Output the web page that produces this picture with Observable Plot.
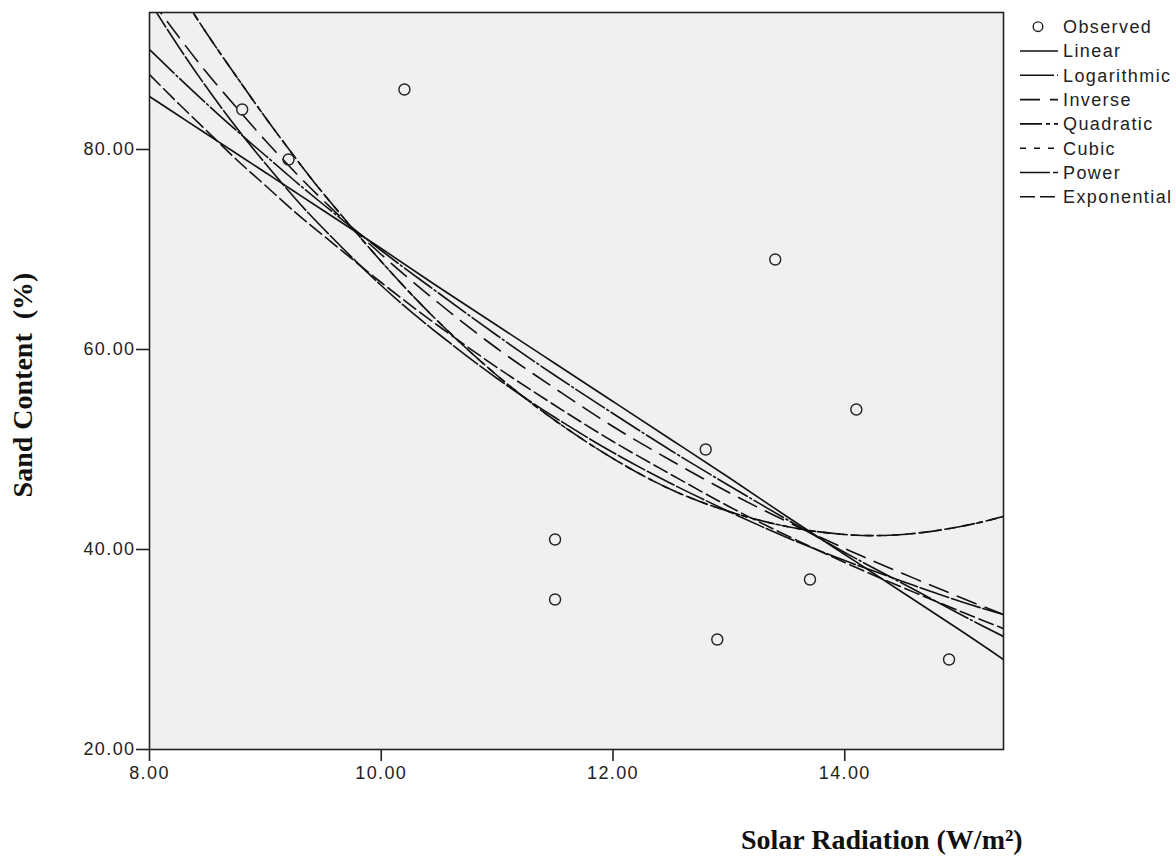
<!DOCTYPE html>
<html>
<head>
<meta charset="utf-8">
<script src="https://cdn.jsdelivr.net/npm/d3@7"></script>
<script src="https://cdn.jsdelivr.net/npm/@observablehq/plot@0.6"></script>
<style>
  body { margin: 0; background: #ffffff; }
  #chart { width: 1176px; height: 856px; }
</style>
</head>
<body>
<div id="chart"></div>
<script>
// Observed points
const obsX = [8.8, 9.2, 10.2, 11.5, 11.5, 12.8, 12.9, 13.4, 13.7, 14.1, 14.9];
const obsY = [84, 79, 86, 41, 35, 50, 31, 69, 37, 54, 29];

// Fitted curves, sampled at these x values
const fitX = [8, 8.25, 8.5, 8.75, 9, 9.25, 9.5, 10, 10.5, 11, 11.5, 12, 12.5, 13, 13.5, 14, 14.5, 15, 15.37];
const linearY      = [85.3, 83.4, 81.5, 79.6, 77.7, 75.8, 73.9, 70.1, 66.2, 62.4, 58.6, 54.8, 51.0, 47.2, 43.3, 39.5, 35.7, 31.9, 29.0];
const logarithmicY = [90.0, 87.2, 84.5, 81.9, 79.4, 76.9, 74.5, 69.9, 65.6, 61.4, 57.4, 53.6, 49.9, 46.4, 43.0, 39.7, 36.6, 33.5, 31.3];
const inverseY     = [95.2, 91.3, 87.6, 84.2, 80.9, 77.8, 74.9, 69.5, 64.6, 60.1, 56.1, 52.3, 48.9, 45.7, 42.8, 40.1, 37.6, 35.2, 33.5];
const quadraticY   = [100.6, 96.0, 91.5, 87.3, 83.2, 79.3, 75.6, 68.8, 62.7, 57.4, 52.9, 49.1, 46.0, 43.8, 42.3, 41.5, 41.5, 42.3, 43.3];
const cubicY       = [100.6, 96.0, 91.5, 87.3, 83.2, 79.3, 75.6, 68.8, 62.7, 57.4, 52.9, 49.1, 46.0, 43.8, 42.3, 41.5, 41.5, 42.3, 43.3];
const powerY       = [94.8, 90.3, 86.1, 82.2, 78.6, 75.2, 72.1, 66.4, 61.5, 57.1, 53.2, 49.7, 46.6, 43.8, 41.2, 38.9, 36.8, 34.8, 33.5];
const exponentialY = [87.5, 84.6, 81.8, 79.0, 76.4, 73.8, 71.4, 66.7, 62.3, 58.2, 54.4, 50.8, 47.5, 44.3, 41.4, 38.7, 36.2, 33.8, 32.1];

const modelNames = ["Linear", "Logarithmic", "Inverse", "Quadratic", "Cubic", "Power", "Exponential"];
const xTicks = [8, 10, 12, 14];
const yTicks = [20, 40, 60, 80];
const xTitle = "Solar Radiation (W/m²)";
const yTitle = "Sand Content  (%)";
const observedLabel = "Observed";

const seriesValues = [linearY, logarithmicY, inverseY, quadraticY, cubicY, powerY, exponentialY];
const dashes = [null, "34,3,2,3", "20,10", "22,4,4,4", "6,8", "30,3", "15,5"];

const observed = obsX.map((x, i) => ({x, y: obsY[i]}));
const fits = modelNames.map((name, k) => ({
  name,
  dash: dashes[k],
  rows: fitX.map((x, i) => ({x, y: seriesValues[k][i]}))
}));

const fmt = d3.format(".2f");
const sans = "'Liberation Sans', Arial, sans-serif";
const serif = "'Liberation Serif', 'Times New Roman', serif";

const plot = Plot.plot({
  width: 1176,
  height: 856,
  marginLeft: 149,
  marginRight: 173,
  marginTop: 12,
  marginBottom: 107,
  style: {fontFamily: sans, fontSize: "18px", color: "#222", background: "#ffffff", letterSpacing: "1.4px"},
  x: {domain: [8, 15.37]},
  y: {domain: [20, 93.7]},
  marks: [
    Plot.frame({fill: "#f0f0f0"}),
    ...fits.map(f => Plot.line(f.rows, {
      x: "x", y: "y", stroke: "#111", strokeWidth: 1.6,
      strokeDasharray: f.dash, curve: "natural", clip: true
    })),
    Plot.dot(observed, {x: "x", y: "y", r: 5.5, stroke: "#222", strokeWidth: 1.4, fill: "none"}),
    Plot.frame({stroke: "#222", strokeWidth: 1.6}),
    Plot.axisX({ticks: xTicks, tickFormat: fmt, tickSize: 12, tickPadding: 5, label: null, stroke: "#222", strokeWidth: 1.6, fill: "#222"}),
    Plot.axisY({ticks: yTicks, tickFormat: fmt, tickSize: 13, tickPadding: 1, label: null, stroke: "#222", strokeWidth: 1.6, fill: "#222"})
  ]
});

document.getElementById("chart").appendChild(plot);

const svg = d3.select(plot);

// Axis titles
svg.append("text")
  .attr("transform", "translate(32,385) rotate(-90)")
  .attr("text-anchor", "middle")
  .attr("font-family", serif)
  .attr("font-weight", "bold")
  .attr("font-size", 28)
  .attr("letter-spacing", "0px")
  .attr("fill", "#111")
  .text(yTitle);

svg.append("text")
  .attr("x", 741)
  .attr("y", 849)
  .attr("text-anchor", "start")
  .attr("font-family", serif)
  .attr("font-weight", "bold")
  .attr("font-size", 28)
  .attr("letter-spacing", "0px")
  .attr("fill", "#111")
  .text(xTitle);

// Legend
const lg = svg.append("g")
  .attr("font-family", sans)
  .attr("font-size", 18)
  .attr("text-anchor", "start")
  .attr("fill", "#222");
const rowY = i => 26.7 + i * 24.3;
lg.append("circle")
  .attr("cx", 1038).attr("cy", rowY(0)).attr("r", 4.8)
  .attr("fill", "none").attr("stroke", "#222").attr("stroke-width", 1.4);
lg.append("text").attr("x", 1063).attr("y", rowY(0)).attr("dy", "0.36em").attr("text-anchor", "start").text(observedLabel);
fits.forEach((f, i) => {
  const y = rowY(i + 1);
  lg.append("line")
    .attr("x1", 1020).attr("x2", 1058).attr("y1", y).attr("y2", y)
    .attr("stroke", "#111").attr("stroke-width", 1.6)
    .attr("stroke-dasharray", f.dash);
  lg.append("text").attr("x", 1063).attr("y", y).attr("dy", "0.36em").attr("text-anchor", "start").text(f.name);
});
</script>
</body>
</html>
